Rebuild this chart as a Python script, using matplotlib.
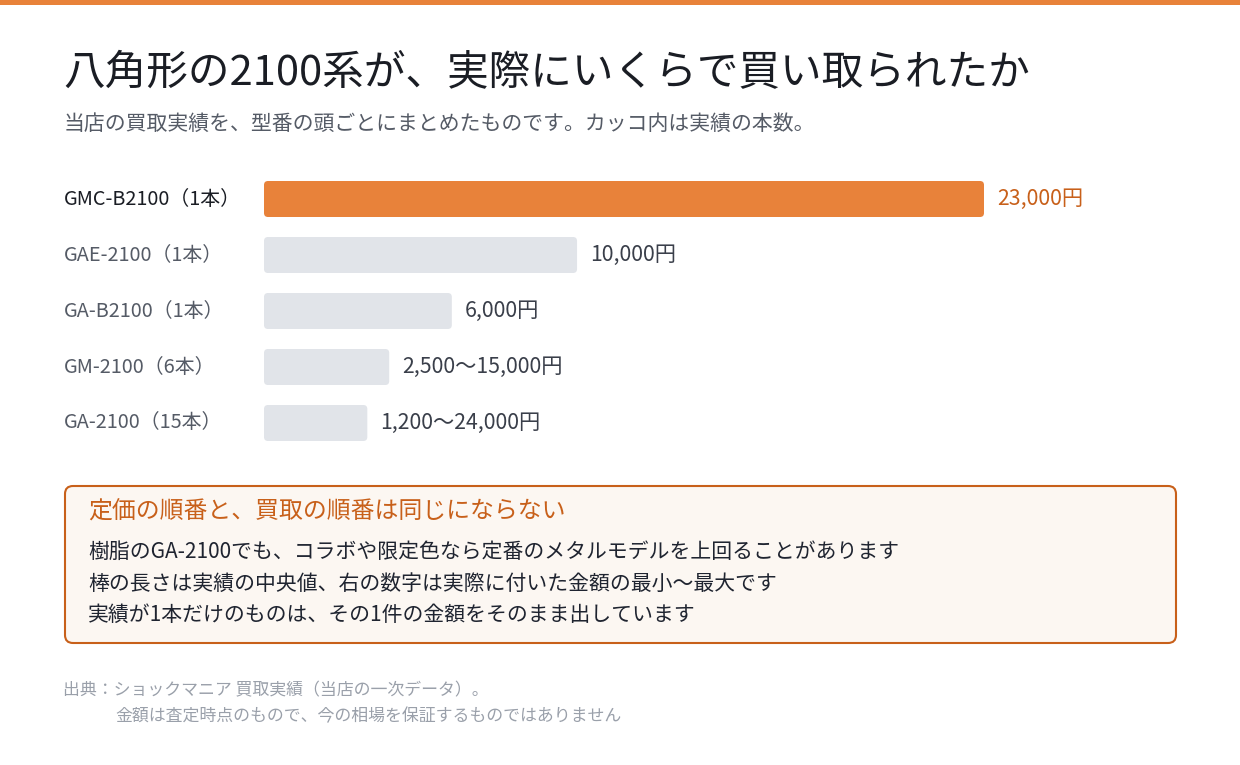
import matplotlib
matplotlib.use("Agg")
import matplotlib.pyplot as plt
from matplotlib.patches import FancyBboxPatch, Rectangle
from matplotlib.transforms import IdentityTransform

plt.rcParams['font.family'] = ['Noto Sans CJK JP', 'DejaVu Sans']

# data
models = ['GMC-B2100', 'GAE-2100', 'GA-B2100', 'GM-2100', 'GA-2100']
counts = [1, 1, 1, 6, 15]
medians = [23000, 10000, 6000, 4000, 3300]
mins = [23000, 10000, 6000, 2500, 1200]
maxs = [23000, 10000, 6000, 15000, 24000]

ORANGE = '#e8823a'
DARK_ORANGE = '#c8601a'
GRAY_BAR = '#e1e4e9'

W, H = 1240, 765
fig = plt.figure(figsize=(W / 100, H / 100), dpi=100)
fig.patch.set_facecolor('white')


def fx(x):
    return x / W


def fy(y):
    return 1 - y / H


# top stripe
fig.patches.append(Rectangle((0, H - 5), W, 5, transform=IdentityTransform(),
                             facecolor=ORANGE, edgecolor='none'))

fig.text(fx(63), fy(74), '八角形の2100系が、実際にいくらで買い取られたか',
         fontsize=30, color='#1a1d24', va='center', ha='left')
fig.text(fx(64), fy(124), '当店の買取実績を、型番の頭ごとにまとめたものです。カッコ内は実績の本数。',
         fontsize=15, color='#555b66', va='center', ha='left')

# bar axes: x 264..984 px, rows 56 px apart centred on 199..423
ax = fig.add_axes([fx(264), fy(451), 720 / W, 280 / H])
ax.set_xlim(0, 23000)
ax.set_ylim(4.5, -0.5)
ax.axis('off')

ypos = list(range(len(models)))
colors = [ORANGE] + [GRAY_BAR] * (len(models) - 1)
bars = ax.barh(ypos, medians, height=36 / 56, color=colors)

xpp = 23000 / 720      # data units per pixel in x
ypp = 1 / 56           # data units per pixel in y
for b, c in zip(bars, colors):
    b.set_visible(False)
    r = FancyBboxPatch((b.get_x(), b.get_y()), b.get_width(), b.get_height(),
                       boxstyle='round,pad=0,rounding_size=%f' % (4 * xpp),
                       mutation_aspect=ypp / xpp, facecolor=c, edgecolor='none')
    ax.add_patch(r)

for i, (m, n, med, lo, hi) in enumerate(zip(models, counts, medians, mins, maxs)):
    first = i == 0
    ax.text(-200 * xpp, i, '%s（%d本）' % (m, n), ha='left', va='center',
            fontsize=14.3, color='#1a1d24' if first else '#555b66',
            clip_on=False)
    if lo == hi:
        val = '{:,}円'.format(lo)
    else:
        val = '{:,}～{:,}円'.format(lo, hi)
    ax.text(med + 13 * xpp, i, val, ha='left', va='center', fontsize=15.3,
            color=DARK_ORANGE if first else '#3a3f4a', clip_on=False)

# note box
fig.patches.append(FancyBboxPatch((65, H - 643), 1111, 157,
                                  boxstyle='round,pad=0,rounding_size=8',
                                  transform=IdentityTransform(),
                                  facecolor='#fcf7f2', edgecolor=DARK_ORANGE,
                                  linewidth=1.5))
fig.text(fx(88), fy(512), '定価の順番と、買取の順番は同じにならない',
         fontsize=17.2, color=DARK_ORANGE, va='center', ha='left')
notes = ['樹脂のGA-2100でも、コラボや限定色なら定番のメタルモデルを上回ることがあります',
         '棒の長さは実績の中央値、右の数字は実際に付いた金額の最小～最大です',
         '実績が1本だけのものは、その1件の金額をそのまま出しています']
for k, line in enumerate(notes):
    fig.text(fx(88), fy(552 + 31.5 * k), line, fontsize=15, color='#1f2430',
             va='center', ha='left')

fig.text(fx(63), fy(690), '出典：ショックマニア 買取実績（当店の一次データ）。',
         fontsize=12.2, color='#9aa0aa', va='center', ha='left')
fig.text(fx(115), fy(716), '金額は査定時点のもので、今の相場を保証するものではありません',
         fontsize=12.2, color='#9aa0aa', va='center', ha='left')

fig.savefig('out.png', dpi=100, facecolor='white')
